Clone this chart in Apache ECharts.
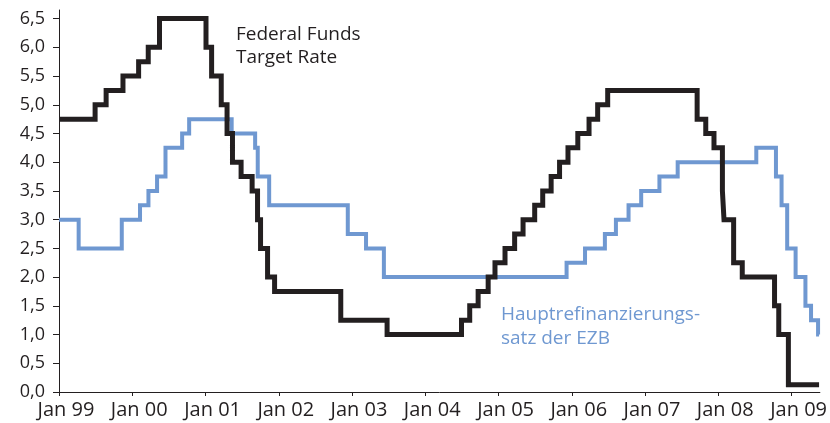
<!DOCTYPE html>
<html>
<head>
<meta charset="utf-8">
<script src="https://cdn.jsdelivr.net/npm/echarts@6/dist/echarts.min.js"></script>
<style>html,body{margin:0;padding:0;background:#fff}#c{width:830px;height:423px}</style>
</head>
<body>
<div id="c"></div>
<script>
// Federal Funds Target Rate: change dates and new rates
const fedDates = ['1999-01-01','1999-06-30','1999-08-24','1999-11-16','2000-02-02','2000-03-21','2000-05-16',
  '2001-01-03','2001-01-31','2001-03-20','2001-04-18','2001-05-15','2001-06-27','2001-08-21','2001-09-17',
  '2001-10-02','2001-11-06','2001-12-11','2002-11-06','2003-06-25','2004-06-30','2004-08-10','2004-09-21',
  '2004-11-10','2004-12-14','2005-02-02','2005-03-22','2005-05-03','2005-06-30','2005-08-09','2005-09-20',
  '2005-11-01','2005-12-13','2006-01-31','2006-03-28','2006-05-10','2006-06-29','2007-09-18','2007-10-31',
  '2007-12-11','2008-01-22','2008-01-30','2008-03-18','2008-04-30','2008-10-08','2008-10-29','2008-12-16',
  '2009-05-18'];
const fedRates = [4.75,5.00,5.25,5.50,5.75,6.00,6.50,
  6.00,5.50,5.00,4.50,4.00,3.75,3.50,3.00,
  2.50,2.00,1.75,1.25,1.00,1.25,1.50,1.75,
  2.00,2.25,2.50,2.75,3.00,3.25,3.50,3.75,
  4.00,4.25,4.50,4.75,5.00,5.25,4.75,4.50,
  4.25,3.50,3.00,2.25,2.00,1.50,1.00,0.125,
  0.125];
// EZB Hauptrefinanzierungssatz
const ecbDates = ['1999-01-01','1999-04-09','1999-11-10','2000-02-09','2000-03-22','2000-05-04','2000-06-15',
  '2000-09-06','2000-10-11','2001-05-11','2001-09-05','2001-09-18','2001-11-14','2002-12-11','2003-03-12',
  '2003-06-09','2005-12-06','2006-03-08','2006-06-15','2006-08-09','2006-10-11','2006-12-13','2007-03-14',
  '2007-06-13','2008-07-09','2008-10-15','2008-11-12','2008-12-10','2009-01-21','2009-03-11','2009-04-08',
  '2009-05-13','2009-05-18'];
const ecbRates = [3.00,2.50,3.00,3.25,3.50,3.75,4.25,
  4.50,4.75,4.50,4.25,3.75,3.25,2.75,2.50,
  2.00,2.25,2.50,2.75,3.00,3.25,3.50,3.75,
  4.00,4.25,3.75,3.25,2.50,2.00,1.50,1.25,
  1.00,1.00];
const yTicks = [0,0.5,1,1.5,2,2.5,3,3.5,4,4.5,5,5.5,6,6.5];
const xTickYears = [1999,2000,2001,2002,2003,2004,2005,2006,2007,2008,2009];

function ts(s){const p=s.split('-');return Date.UTC(+p[0],+p[1]-1,+p[2]);}
const fedData = fedDates.map((d,i)=>[ts(d),fedRates[i]]);
const ecbData = ecbDates.map((d,i)=>[ts(d),ecbRates[i]]);
const xTicks = xTickYears.map(y=>Date.UTC(y,0,1));

const ink = '#231f20';
const blue = '#6f98d1';
const chart = echarts.init(document.getElementById('c'), null, {renderer:'canvas'});
chart.setOption({
  animation:false,
  backgroundColor:'#fff',
  grid:{left:59,right:5,top:10,bottom:31,containLabel:false},
  xAxis:{
    type:'value',
    min:ts('1999-01-01'), max:ts('2009-05-22'),
    axisLine:{show:true,lineStyle:{color:ink,width:1}},
    axisTick:{show:true,length:4,lineStyle:{color:ink},customValues:xTicks},
    axisLabel:{color:ink,fontFamily:'Open Sans',fontSize:20,margin:8,padding:[0,0,0,14],
      customValues:xTicks,
      formatter:function(v){const y=new Date(v).getUTCFullYear()%100;return 'Jan '+(y<10?'0':'')+y;}},
    splitLine:{show:false}
  },
  yAxis:{
    type:'value', min:0, max:6.65,
    axisLine:{show:true,lineStyle:{color:ink,width:1}},
    axisTick:{show:true,length:6,lineStyle:{color:ink},customValues:yTicks},
    axisLabel:{color:ink,fontFamily:'Open Sans',fontSize:18,margin:14,customValues:yTicks,
      formatter:function(v){return v.toFixed(1).replace('.',',');}},
    splitLine:{show:false}
  },
  series:[
    {type:'line',name:'EZB',step:'end',data:ecbData,showSymbol:false,symbol:'none',
     lineStyle:{color:blue,width:4,cap:'butt',join:'miter'},z:2},
    {type:'line',name:'Fed',step:'end',data:fedData,showSymbol:false,symbol:'none',
     lineStyle:{color:ink,width:5,cap:'butt',join:'miter'},z:3}
  ],
  graphic:[
    {type:'text',left:236,top:23,style:{text:'Federal Funds\nTarget Rate',fill:ink,font:'19px "Open Sans"',lineHeight:23}},
    {type:'text',left:501,top:303,style:{text:'Hauptrefinanzierungs-\nsatz der EZB',fill:blue,font:'19px "Open Sans"',lineHeight:24}}
  ]
});
</script>
</body>
</html>
